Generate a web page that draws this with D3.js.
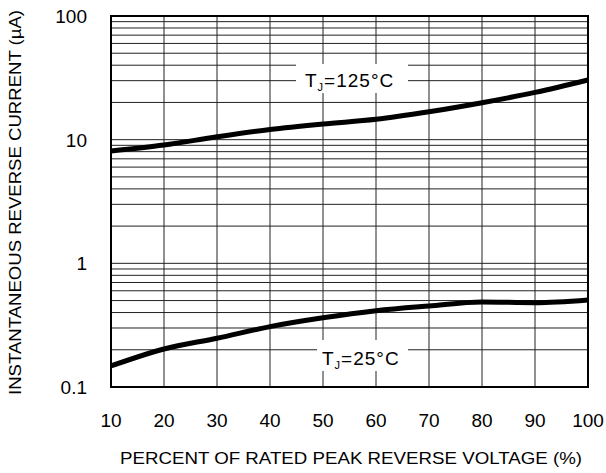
<!DOCTYPE html>
<html>
<head>
<meta charset="utf-8">
<script src="https://cdn.jsdelivr.net/npm/d3@7"></script>
<style>
  html, body { margin: 0; padding: 0; background: #fff; }
  svg { display: block; font-family: "Liberation Sans", Arial, Helvetica, sans-serif; }
</style>
</head>
<body>
<svg id="chart" width="606" height="473"></svg>
<script>
// ---- data ----
const percent = [10, 20, 30, 40, 50, 60, 70, 80, 90, 100];
const current125 = [8.1, 9.05, 10.55, 12.1, 13.4, 14.6, 16.8, 19.9, 24.1, 30.4];
const current25  = [0.148, 0.203, 0.248, 0.308, 0.363, 0.414, 0.452, 0.487, 0.480, 0.505];
const xTicks = [10, 20, 30, 40, 50, 60, 70, 80, 90, 100];
const yTicks = [0.1, 1, 10, 100];
const yTickLabels = ["0.1", "1", "10", "100"];
const xTitle = "PERCENT OF RATED PEAK REVERSE VOLTAGE (%)";
const yTitle = "INSTANTANEOUS REVERSE CURRENT (\u00B5A)";

// ---- layout ----
const L = 111, R = 588, T = 16, B = 387;
const svg = d3.select("#chart");
const x = d3.scaleLinear().domain([10, 100]).range([L, R]);
const y = d3.scaleLog().domain([0.1, 100]).range([B, T]);

// gridlines: horizontal (minor 2..9 and decades)
const hVals = [];
[0.1, 1, 10].forEach(d => { for (let k = 1; k <= 9; k++) { const v = d * k; if (v > 0.1 && v < 100) hVals.push(v); } });
const grid = svg.append("g").attr("stroke", "#222").attr("stroke-width", 1);
grid.selectAll("line.h").data(hVals).join("line")
  .attr("x1", L).attr("x2", R).attr("y1", d => y(d)).attr("y2", d => y(d));
grid.selectAll("line.v").data(xTicks.slice(1, -1)).join("line")
  .attr("y1", T).attr("y2", B).attr("x1", d => x(d)).attr("x2", d => x(d));

// label boxes (white breaks in grid)
const labels = [
  { sub: "J", val: "=125\u00B0C", x0: 296, x1: 408, y0: 64, y1: 93, tx: 305, ty: 87 },
  { sub: "J", val: "=25\u00B0C", x0: 317, x1: 408, y0: 340, y1: 371, tx: 322, ty: 365 }
];
svg.selectAll("rect.lb").data(labels).join("rect")
  .attr("x", d => d.x0).attr("y", d => d.y0)
  .attr("width", d => d.x1 - d.x0).attr("height", d => d.y1 - d.y0)
  .attr("fill", "#fff");

// curves
const line = d3.line().x((d, i) => x(percent[i])).y(d => y(d)).curve(d3.curveMonotoneX);
[current125, current25].forEach(s => {
  svg.append("path").datum(s).attr("d", line)
    .attr("fill", "none").attr("stroke", "#000").attr("stroke-width", 5)
    .attr("stroke-linecap", "butt");
});

// frame
svg.append("rect").attr("x", L).attr("y", T).attr("width", R - L).attr("height", B - T)
  .attr("fill", "none").attr("stroke", "#000").attr("stroke-width", 2);

// axes text
svg.append("g").selectAll("text").data(xTicks).join("text")
  .attr("x", d => x(d)).attr("y", 427).attr("text-anchor", "middle")
  .attr("font-size", 19).attr("fill", "#000").text(d => d);
svg.append("g").selectAll("text").data(yTicks).join("text")
  .attr("x", 87).attr("y", d => y(d) + 7).attr("text-anchor", "end")
  .attr("font-size", 19).attr("fill", "#000").text((d, i) => yTickLabels[i]);

svg.append("text").attr("x", 120).attr("y", 464)
  .attr("font-size", 16.5).attr("fill", "#000")
  .attr("textLength", 462).attr("lengthAdjust", "spacingAndGlyphs").text(xTitle);
svg.append("text").attr("transform", `translate(21,395) rotate(-90)`)
  .attr("font-size", 16.5).attr("fill", "#000")
  .attr("textLength", 385).attr("lengthAdjust", "spacingAndGlyphs").text(yTitle);

// curve labels
labels.forEach(d => {
  const t = svg.append("text").attr("x", d.tx).attr("y", d.ty).attr("font-size", 19)
    .attr("letter-spacing", 1).attr("fill", "#000");
  t.append("tspan").text("T");
  t.append("tspan").attr("font-size", 11).attr("dy", 4).text(d.sub);
  t.append("tspan").attr("dy", -4).text(d.val);
});
</script>
</body>
</html>
